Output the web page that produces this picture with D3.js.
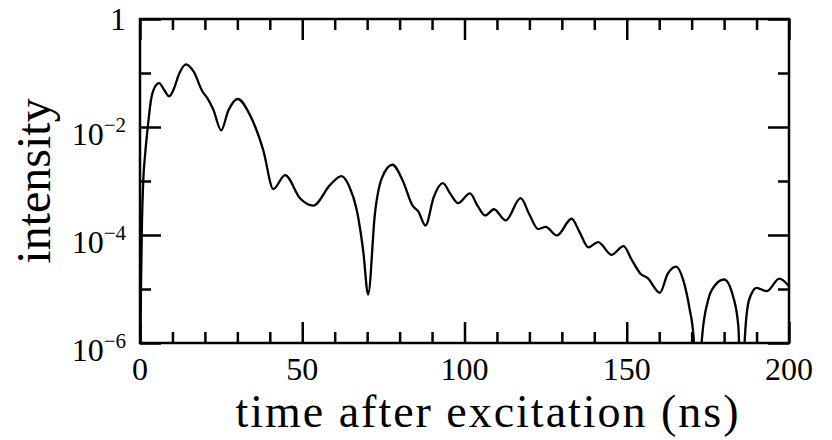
<!DOCTYPE html>
<html>
<head>
<meta charset="utf-8">
<script src="https://cdn.jsdelivr.net/npm/d3@7"></script>
<style>
  body { margin: 0; background: #fff; }
  svg text { font-family: "Liberation Serif", "Times New Roman", serif; fill: #000; }
</style>
</head>
<body>
<svg width="832" height="440"></svg>
<script>
// time after excitation (ns)
var time = [0.0, 0.3, 0.6, 1.0, 1.6, 2.4, 3.4, 4.5, 5.9, 7.5, 9.0, 10.5, 12.0, 14.2, 16.5,
  19.3, 20.8, 22.6, 25.0, 27.2, 30.1, 33.9, 38.0, 41.1, 44.7, 49.3, 53.4, 58.6, 62.1, 64.5,
  66.8, 68.8, 70.3, 72.4, 74.5, 77.8, 81.0, 84.0, 85.8, 88.0, 90.5, 93.3, 95.8, 98.0, 101.7,
  104.0, 106.4, 109.1, 112.7, 117.3, 120.0, 122.7, 125.0, 128.5, 133.0, 135.5, 138.2, 141.2,
  145.3, 149.0, 151.5, 154.3, 156.4, 160.2, 162.6, 165.2, 167.5, 169.3, 170.6, 171.9, 173.2,
  175.1, 177.2, 180.0, 182.8, 184.4, 185.4, 186.4, 187.2, 188.5, 190.0, 193.2, 197.0, 200.0];

// intensity (arb. units)
var intensity = [1e-7, 1e-5, 1.6e-4, 1.0e-3, 3.2e-3, 1.0e-2, 3.2e-2, 5.4e-2, 6.5e-2, 4.8e-2,
  3.7e-2, 5.2e-2, 9.5e-2, 1.45e-1, 1.07e-1, 4.5e-2, 3.4e-2, 2.1e-2, 8.7e-3, 2.0e-2, 3.3e-2,
  1.66e-2, 3.7e-3, 7.1e-4, 1.29e-3, 4.8e-4, 3.5e-4, 8.5e-4, 1.23e-3, 7.9e-4, 2.9e-4, 5.0e-5,
  7.9e-6, 2.5e-4, 1.12e-3, 2.0e-3, 1.0e-3, 3.5e-4, 2.7e-4, 1.5e-4, 5.0e-4, 9.1e-4, 5.6e-4,
  3.9e-4, 5.9e-4, 3.5e-4, 2.3e-4, 3.0e-4, 1.86e-4, 4.8e-4, 2.4e-4, 1.29e-4, 1.41e-4, 9.8e-5,
  2.0e-4, 1.12e-4, 5.9e-5, 7.4e-5, 4.3e-5, 6.2e-5, 3.5e-5, 1.9e-5, 1.6e-5, 8.5e-6, 1.9e-5,
  2.6e-5, 1.4e-5, 4.5e-6, 1.26e-6, 3e-8, 1.26e-6, 6.3e-6, 1.17e-5, 1.5e-5, 7.2e-6, 2.0e-6,
  3e-8, 1.26e-6, 4.5e-6, 8.3e-6, 1.05e-5, 9.1e-6, 1.55e-5, 1.12e-5];

var xMajor = [0, 50, 100, 150, 200];
var xMinor = [10, 20, 30, 40, 60, 70, 80, 90, 110, 120, 130, 140, 160, 170, 180, 190];
var yMajorExp = [0, -2, -4, -6];
var yMinorExp = [-1, -3, -5];

var svg = d3.select("svg"),
    margin = {top: 19, right: 43, bottom: 97, left: 140},
    width = +svg.attr("width") - margin.left - margin.right,
    height = +svg.attr("height") - margin.top - margin.bottom;

var x = d3.scaleLinear().domain([0, 200]).range([0, width]);
var y = d3.scaleLog().domain([1e-6, 1]).range([height, 0]);

var g = svg.append("g")
    .attr("transform", "translate(" + margin.left + "," + margin.top + ")");

svg.append("defs").append("clipPath").attr("id", "plot-clip")
  .append("rect").attr("width", width).attr("height", height);

// the curve
var pts = time.map(function(t, i) { return [t, intensity[i]]; });
var line = d3.line()
    .x(function(d) { return x(d[0]); })
    .y(function(d) { return y(d[1]); })
    .curve(d3.curveMonotoneX);

g.append("path")
    .datum(pts)
    .attr("clip-path", "url(#plot-clip)")
    .attr("fill", "none")
    .attr("stroke", "#000")
    .attr("stroke-width", 2.3)
    .attr("stroke-linejoin", "round")
    .attr("d", line);

// ticks, pointing inward on all four sides
function ticks(axis, vals, size, tx) {
  var a = g.append("g")
    .attr("transform", tx)
    .call(axis.tickValues(vals).tickSize(size).tickSizeOuter(0).tickFormat(""));
  a.select(".domain").remove();
  a.selectAll("line").attr("stroke", "#000").attr("stroke-width", 2.5);
}
var yMaj = yMajorExp.map(function(e) { return Math.pow(10, e); });
var yMin = yMinorExp.map(function(e) { return Math.pow(10, e); });

ticks(d3.axisBottom(x), xMajor, -21, "translate(0," + height + ")");
ticks(d3.axisBottom(x), xMinor, -11, "translate(0," + height + ")");
ticks(d3.axisTop(x), xMajor, -21, "translate(0,0)");
ticks(d3.axisTop(x), xMinor, -11, "translate(0,0)");
ticks(d3.axisLeft(y), yMaj, -21, "translate(0,0)");
ticks(d3.axisLeft(y), yMin, -11, "translate(0,0)");
ticks(d3.axisRight(y), yMaj, -21, "translate(" + width + ",0)");
ticks(d3.axisRight(y), yMin, -11, "translate(" + width + ",0)");

// frame
g.append("rect")
    .attr("width", width)
    .attr("height", height)
    .attr("fill", "none")
    .attr("stroke", "#000")
    .attr("stroke-width", 2.5);

// x tick labels
g.selectAll(".xlab")
  .data(xMajor)
  .enter().append("text")
    .attr("class", "xlab")
    .attr("x", function(d) { return x(d); })
    .attr("y", height + 37)
    .attr("text-anchor", "middle")
    .style("font-size", "32px")
    .text(function(d) { return d; });

// y tick labels, 10 with a superscript
var ylab = g.selectAll(".ylab")
  .data(yMajorExp)
  .enter().append("text")
    .attr("class", "ylab")
    .attr("x", -14)
    .attr("y", function(d) { return y(Math.pow(10, d)) + (d === 0 ? 11 : 18); })
    .attr("text-anchor", "end")
    .style("font-size", "32px");

ylab.filter(function(d) { return d === 0; }).text("1");
ylab.filter(function(d) { return d !== 0; })
  .each(function(d) {
    var t = d3.select(this);
    t.append("tspan").text("10");
    t.append("tspan").attr("dy", -13).style("font-size", "21px").text("\u2212" + (-d));
  });

// axis titles
svg.append("text")
    .attr("x", 487)
    .attr("y", 427)
    .attr("text-anchor", "middle")
    .attr("textLength", 503)
    .style("font-size", "46px")
    .text("time after excitation (ns)");

svg.append("text")
    .attr("transform", "translate(50," + (margin.top + height / 2) + ") rotate(-90)")
    .attr("text-anchor", "middle")
    .style("font-size", "48px")
    .text("intensity");
</script>
</body>
</html>
